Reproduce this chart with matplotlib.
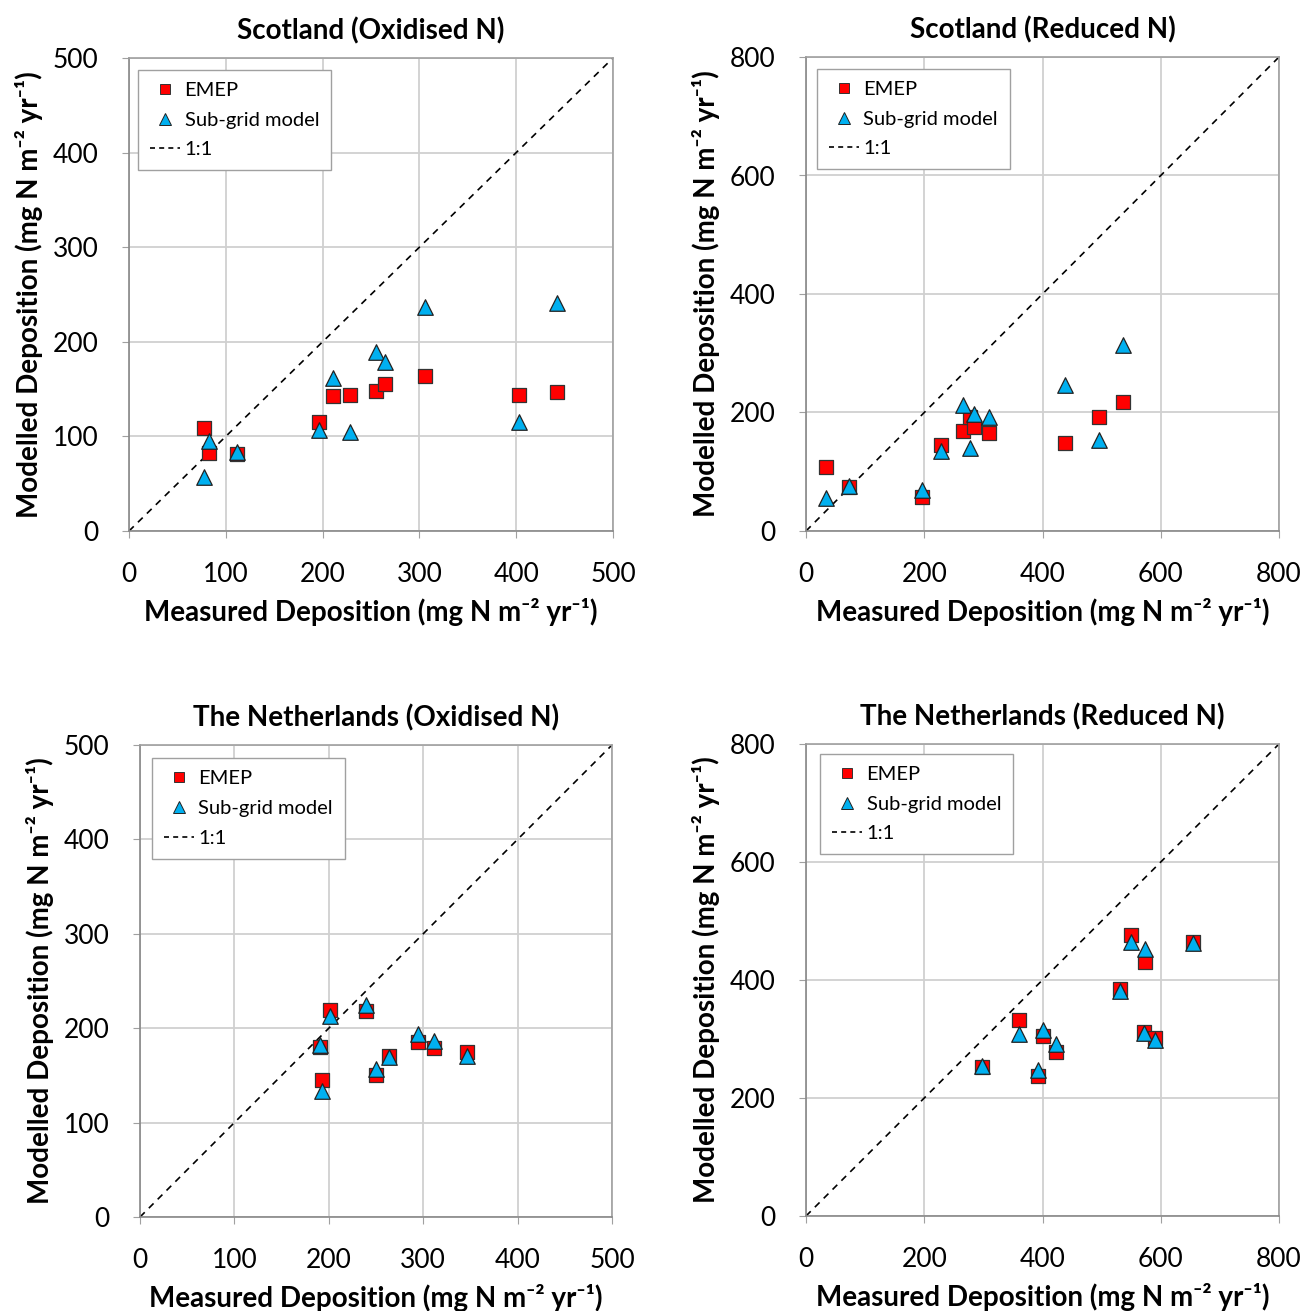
import matplotlib
matplotlib.use("Agg")
import matplotlib.pyplot as plt
from matplotlib.lines import Line2D

plt.rcParams['font.family'] = ['Lato', 'DejaVu Sans']

# ---- data ----
sco_ox_meas = [77, 83, 112, 196, 211, 228, 255, 264, 306, 403, 442]
sco_ox_emep = [109, 82, 81, 115, 143, 144, 148, 155, 164, 144, 147]
sco_ox_sub = [57, 95, 83, 107, 162, 105, 189, 179, 237, 115, 241]

sco_red_meas = [34, 73, 196, 228, 265, 277, 284, 309, 438, 496, 536]
sco_red_emep = [108, 75, 58, 145, 168, 192, 175, 166, 149, 192, 218]
sco_red_sub = [56, 76, 69, 135, 213, 140, 198, 192, 246, 154, 314]

nl_ox_meas = [191, 193, 201, 239, 250, 264, 294, 311, 346]
nl_ox_emep = [180, 145, 219, 218, 150, 171, 185, 179, 175]
nl_ox_sub = [182, 134, 213, 225, 157, 170, 194, 186, 171]

nl_red_meas = [297, 360, 393, 400, 423, 531, 550, 572, 573, 590, 655]
nl_red_emep = [252, 333, 237, 305, 278, 385, 476, 312, 431, 302, 465]
nl_red_sub = [255, 308, 247, 316, 292, 382, 464, 311, 452, 298, 462]

titles = ["Scotland (Oxidised N)", "Scotland (Reduced N)",
          "The Netherlands (Oxidised N)", "The Netherlands (Reduced N)"]
limits = [500, 800, 500, 800]
ticks = [[0, 100, 200, 300, 400, 500], [0, 200, 400, 600, 800],
         [0, 100, 200, 300, 400, 500], [0, 200, 400, 600, 800]]
series_labels = ["EMEP", "Sub-grid model", "1:1"]

panels = [
    (sco_ox_meas, sco_ox_emep, sco_ox_sub),
    (sco_red_meas, sco_red_emep, sco_red_sub),
    (nl_ox_meas, nl_ox_emep, nl_ox_sub),
    (nl_red_meas, nl_red_emep, nl_red_sub),
]

W, H = 1305, 1311
fig = plt.figure(figsize=(W / 100, H / 100), dpi=100)

boxes = [  # left, top, right, bottom in px
    (129, 58, 613, 531),
    (806, 57, 1279, 531),
    (140, 745, 612, 1217),
    (806, 744, 1279, 1216),
]
legend_anchor = [(0.019, 0.975), (0.023, 0.975), (0.025, 0.972), (0.03, 0.979)]

red = '#FF0000'
blue = '#00B0F0'
xlabel = "Measured Deposition (mg N m\u207b\u00b2 yr\u207b\u00b9)"
ylabel = "Modelled Deposition (mg N m\u207b\u00b2 yr\u207b\u00b9)"

for i, (l, t, r, b) in enumerate(boxes):
    ax = fig.add_axes([l / W, 1 - b / H, (r - l) / W, (b - t) / H])
    meas, emep, sub = panels[i]
    lim = limits[i]
    ax.plot([0, lim], [0, lim], linestyle=(0, (4, 3.5)), color='black', lw=1.2, zorder=2)
    ax.scatter(meas, emep, marker='s', s=95, c=red, edgecolors='#333333', linewidths=0.9, zorder=3)
    ax.scatter(meas, sub, marker='^', s=125, c=blue, edgecolors='#222222', linewidths=0.9, zorder=4)
    ax.set_xlim(0, lim)
    ax.set_ylim(0, lim)
    ax.set_xticks(ticks[i])
    ax.set_yticks(ticks[i])
    ax.grid(True, color='#D0D0D0', lw=1.3)
    ax.set_axisbelow(True)
    for s in ax.spines.values():
        s.set_color('#A0A0A0')
        s.set_linewidth(1.2)
    ax.spines['left'].set_color('#888888')
    ax.spines['bottom'].set_color('#888888')
    ax.tick_params(axis='both', labelsize=19, length=5, color='#A0A0A0')
    ax.tick_params(axis='x', pad=17)
    ax.tick_params(axis='y', pad=17)
    ax.set_title(titles[i], fontsize=20, fontweight='bold', pad=13)
    ax.set_xlabel(xlabel, fontsize=20, fontweight='bold', labelpad=8)
    ax.set_ylabel(ylabel, fontsize=20, fontweight='bold', labelpad=7)

    handles = [
        Line2D([], [], marker='s', linestyle='none', markersize=7, markerfacecolor=red,
               markeredgecolor='#333333', markeredgewidth=0.7),
        Line2D([], [], marker='^', linestyle='none', markersize=8, markerfacecolor=blue,
               markeredgecolor='#222222', markeredgewidth=0.7),
        Line2D([], [], linestyle=(0, (3, 2.5)), color='black', lw=1.2),
    ]
    leg = ax.legend(handles, series_labels, loc='upper left', bbox_to_anchor=legend_anchor[i],
                    borderaxespad=0, fontsize=14.5, frameon=True, fancybox=False,
                    edgecolor='#A0A0A0', framealpha=1, labelspacing=0.62,
                    handlelength=1.5, handletextpad=0.2, borderpad=0.6)
    leg.get_frame().set_linewidth(1.0)

fig.savefig('out.png', dpi=100)
